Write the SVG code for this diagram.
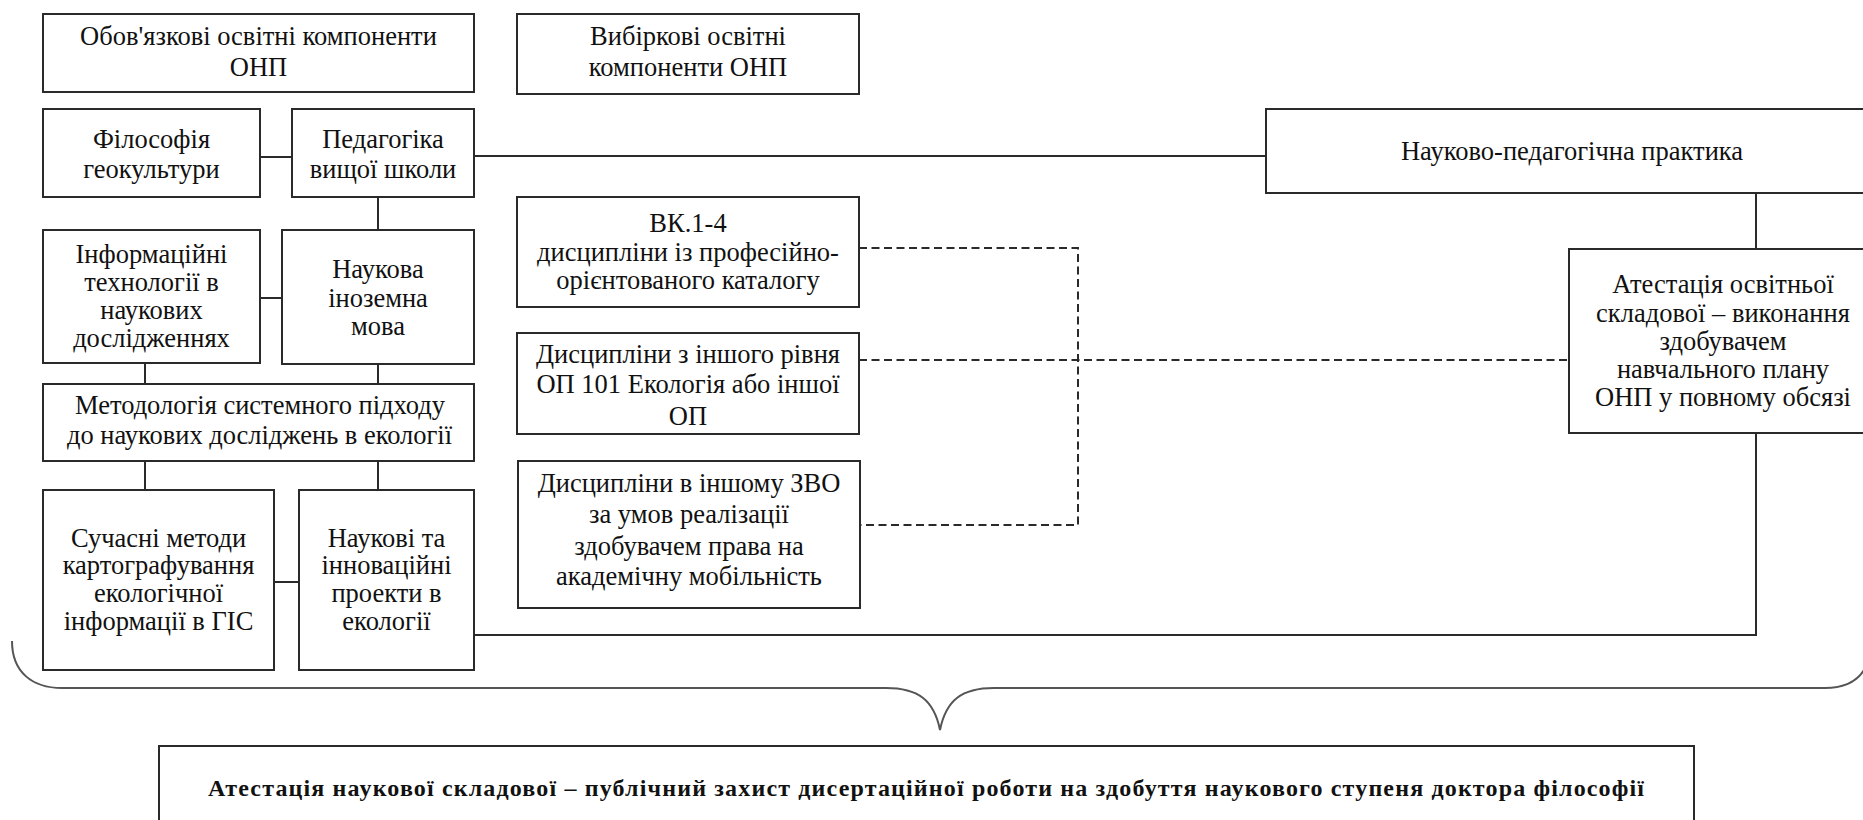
<svg xmlns="http://www.w3.org/2000/svg" width="1863" height="820" viewBox="0 0 1863 820">
<style>
  .box { fill: #ffffff; stroke: #2a2a2a; stroke-width: 2; }
  .t { font-family: "Liberation Serif", "Times New Roman", serif; font-size: 26.5px; fill: #111; text-anchor: middle; }
  .tb { font-family: "Liberation Serif", "Times New Roman", serif; font-size: 24px; font-weight: bold; fill: #111; text-anchor: middle; }
  .ln { fill: none; stroke: #2a2a2a; stroke-width: 2; }
  .dash { fill: none; stroke: #2a2a2a; stroke-width: 2; stroke-dasharray: 8 4.5; }
  .brace { fill: none; stroke: #555; stroke-width: 2; }
</style>
<rect width="1863" height="820" fill="#ffffff"/>

<g id="connectors">
  <path class="ln" d="M260 157 H292"/>
  <path class="ln" d="M474 156 H1266"/>
  <path class="ln" d="M378 197 V230"/>
  <path class="ln" d="M260 298 H282"/>
  <path class="ln" d="M145 363 V384"/>
  <path class="ln" d="M378 364 V384"/>
  <path class="ln" d="M145 461 V490"/>
  <path class="ln" d="M378 461 V490"/>
  <path class="ln" d="M274 582 H299"/>
  <path class="ln" d="M474 635 H1756 V433"/>
  <path class="ln" d="M1756 193 V249"/>
  <path class="dash" d="M859 248 H1078 V525 H860"/>
  <path class="dash" d="M859 360 H1569"/>
  <path class="brace" d="M12 641 C12 672 32 688 62 688 H886 C918 688 934 700 940 730 C946 700 962 688 994 688 H1825 C1845 688 1857 681 1864 670"/>
</g>

<g id="n-obov">
  <rect class="box" x="43" y="14" width="431" height="78"/>
  <text class="t" x="258.5" y="45">Обов'язкові освітні компоненти</text>
  <text class="t" x="258.5" y="76">ОНП</text>
</g>
<g id="n-vybir">
  <rect class="box" x="517" y="14" width="342" height="80"/>
  <text class="t" x="688" y="45">Вибіркові освітні</text>
  <text class="t" x="688" y="76">компоненти ОНП</text>
</g>
<g id="n-filos">
  <rect class="box" x="43" y="109" width="217" height="88"/>
  <text class="t" x="151.5" y="148">Філософія</text>
  <text class="t" x="151.5" y="178">геокультури</text>
</g>
<g id="n-pedag">
  <rect class="box" x="292" y="109" width="182" height="88"/>
  <text class="t" x="383" y="148">Педагогіка</text>
  <text class="t" x="383" y="178">вищої школи</text>
</g>
<g id="n-inform">
  <rect class="box" x="43" y="230" width="217" height="133"/>
  <text class="t" x="151.5" y="263">Інформаційні</text>
  <text class="t" x="151.5" y="291">технології в</text>
  <text class="t" x="151.5" y="319">наукових</text>
  <text class="t" x="151.5" y="347">дослідженнях</text>
</g>
<g id="n-mova">
  <rect class="box" x="282" y="230" width="192" height="134"/>
  <text class="t" x="378" y="278">Наукова</text>
  <text class="t" x="378" y="307">іноземна</text>
  <text class="t" x="378" y="335">мова</text>
</g>
<g id="n-metod">
  <rect class="box" x="43" y="384" width="431" height="77"/>
  <text class="t" x="260" y="414" textLength="370" lengthAdjust="spacing">Методологія системного підходу</text>
  <text class="t" x="259.5" y="444" textLength="385" lengthAdjust="spacing">до наукових досліджень в екології</text>
</g>
<g id="n-suchasni">
  <rect class="box" x="43" y="490" width="231" height="180"/>
  <text class="t" x="158.5" y="547">Сучасні методи</text>
  <text class="t" x="158.5" y="574">картографування</text>
  <text class="t" x="158.5" y="602">екологічної</text>
  <text class="t" x="158.5" y="630">інформації в ГІС</text>
</g>
<g id="n-proekty">
  <rect class="box" x="299" y="490" width="175" height="180"/>
  <text class="t" x="386.5" y="547">Наукові та</text>
  <text class="t" x="386.5" y="574">інноваційні</text>
  <text class="t" x="386.5" y="602">проекти в</text>
  <text class="t" x="386.5" y="630">екології</text>
</g>
<g id="n-vk">
  <rect class="box" x="517" y="197" width="342" height="110"/>
  <text class="t" x="688" y="232">ВК.1-4</text>
  <text class="t" x="688" y="261">дисципліни із професійно-</text>
  <text class="t" x="688" y="289">орієнтованого каталогу</text>
</g>
<g id="n-inshyi-riven">
  <rect class="box" x="517" y="333" width="342" height="101"/>
  <text class="t" x="688" y="363">Дисципліни з іншого рівня</text>
  <text class="t" x="688" y="393">ОП 101 Екологія або іншої</text>
  <text class="t" x="688" y="425">ОП</text>
</g>
<g id="n-inshyi-zvo">
  <rect class="box" x="518" y="461" width="342" height="147"/>
  <text class="t" x="689" y="492">Дисципліни в іншому ЗВО</text>
  <text class="t" x="689" y="523">за умов реалізації</text>
  <text class="t" x="689" y="555">здобувачем права на</text>
  <text class="t" x="689" y="585">академічну мобільність</text>
</g>
<g id="n-praktyka">
  <rect class="box" x="1266" y="109" width="610" height="84"/>
  <text class="t" x="1572" y="160">Науково-педагогічна практика</text>
</g>
<g id="n-atest-osv">
  <rect class="box" x="1569" y="249" width="310" height="184"/>
  <text class="t" x="1723" y="293">Атестація освітньої</text>
  <text class="t" x="1723" y="322">складової – виконання</text>
  <text class="t" x="1723" y="350">здобувачем</text>
  <text class="t" x="1723" y="378">навчального плану</text>
  <text class="t" x="1723" y="406">ОНП у повному обсязі</text>
</g>
<g id="n-atest-nauk">
  <rect class="box" x="159" y="746" width="1535" height="80"/>
  <text class="tb" x="926" y="796" textLength="1436" lengthAdjust="spacing">Атестація наукової складової – публічний захист дисертаційної роботи на здобуття наукового ступеня доктора філософії</text>
</g>
</svg>
